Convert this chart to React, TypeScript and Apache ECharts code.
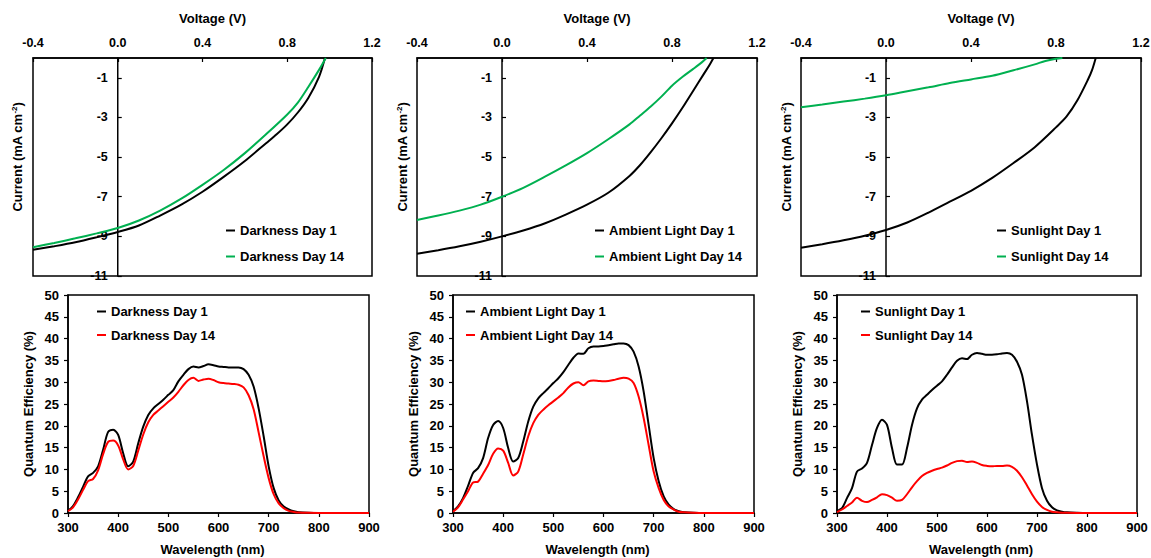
import React, { useEffect, useRef } from "react";
import * as echarts from "echarts";

// ---------- J-V data (Voltage V, Current mA cm-2) ----------
const darkD1V = [-0.4, -0.3, -0.2, -0.1, 0, 0.1, 0.2, 0.3, 0.4, 0.5, 0.6, 0.7, 0.75, 0.8, 0.85, 0.9, 0.95, 0.978];
const darkD1J = [-9.68, -9.5, -9.3, -9.05, -8.78, -8.45, -7.95, -7.4, -6.75, -6.0, -5.2, -4.3, -3.85, -3.35, -2.75, -2.0, -0.95, 0];
const darkD14V = [-0.4, -0.3, -0.2, -0.1, 0, 0.1, 0.2, 0.3, 0.4, 0.5, 0.6, 0.7, 0.8, 0.85, 0.9, 0.95, 0.982];
const darkD14J = [-9.55, -9.33, -9.1, -8.85, -8.58, -8.2, -7.7, -7.1, -6.4, -5.65, -4.8, -3.85, -2.85, -2.25, -1.45, -0.6, 0];

const ambD1V = [-0.4, -0.3, -0.2, -0.1, 0, 0.1, 0.2, 0.3, 0.4, 0.5, 0.6, 0.65, 0.7, 0.75, 0.8, 0.85, 0.9, 0.95, 0.975, 0.995];
const ambD1J = [-9.88, -9.7, -9.5, -9.27, -9.0, -8.7, -8.35, -7.9, -7.4, -6.8, -5.95, -5.4, -4.75, -4.05, -3.3, -2.5, -1.65, -0.8, -0.38, 0];
const ambD14V = [-0.4, -0.3, -0.2, -0.1, 0, 0.1, 0.2, 0.3, 0.4, 0.5, 0.6, 0.65, 0.7, 0.75, 0.8, 0.85, 0.9, 0.94, 0.963];
const ambD14J = [-8.17, -7.95, -7.7, -7.4, -7.0, -6.55, -6.0, -5.42, -4.8, -4.1, -3.35, -2.9, -2.45, -1.95, -1.4, -0.95, -0.55, -0.22, 0];

const sunD1V = [-0.4, -0.3, -0.2, -0.1, 0, 0.1, 0.2, 0.3, 0.4, 0.5, 0.6, 0.7, 0.8, 0.85, 0.9, 0.95, 0.97, 0.987];
const sunD1J = [-9.58, -9.4, -9.2, -8.97, -8.68, -8.3, -7.8, -7.25, -6.7, -6.05, -5.3, -4.5, -3.5, -2.95, -2.15, -1.1, -0.6, 0];
const sunD14V = [-0.4, -0.3, -0.2, -0.1, 0, 0.1, 0.2, 0.3, 0.4, 0.5, 0.6, 0.7, 0.75, 0.8, 0.83];
const sunD14J = [-2.48, -2.35, -2.2, -2.05, -1.88, -1.68, -1.48, -1.26, -1.08, -0.9, -0.62, -0.32, -0.15, -0.04, 0];

// ---------- Quantum efficiency data ----------
const wavelengths = [300, 310, 320, 330, 340, 350, 360, 370, 380, 390, 400, 410, 420, 430, 440, 450, 460, 470, 480, 490, 500, 510, 520, 530, 540, 550, 560, 570, 580, 590, 600, 610, 620, 630, 640, 650, 660, 670, 680, 690, 700, 710, 720, 730, 740, 750, 760, 780, 800, 850, 900];
const qeDarkD1 = [0.5, 1.6, 3.6, 6.0, 8.4, 9.2, 10.7, 14.5, 18.6, 19.1, 17.9, 13.7, 10.7, 11.8, 16.0, 19.8, 22.5, 24.0, 25.0, 26.0, 27.1, 28.2, 30.2, 31.7, 33.0, 33.6, 33.4, 33.7, 34.1, 33.9, 33.6, 33.5, 33.4, 33.4, 33.4, 33.0, 31.7, 29.0, 24.0, 17.6, 10.7, 5.7, 2.9, 1.5, 0.8, 0.4, 0.2, 0.05, 0, 0, 0];
const qeDarkD14 = [0.4, 1.3, 3.1, 5.3, 7.3, 7.8, 9.8, 13.5, 16.3, 16.6, 15.5, 12.3, 10.0, 10.8, 14.3, 18.0, 20.8, 22.5, 23.5, 24.5, 25.5, 26.5, 27.8, 29.3, 30.5, 31.0, 30.3, 30.6, 30.8, 30.5, 30.0, 29.8, 29.7, 29.6, 29.4, 28.8, 27.0, 23.8, 18.5, 13.0, 8.0, 4.3, 2.2, 1.1, 0.5, 0.25, 0.1, 0.03, 0, 0, 0];
const qeAmbD1 = [0.4, 1.5, 3.4, 6.2, 9.2, 10.3, 12.6, 17.2, 20.2, 21.1, 19.5, 14.9, 11.8, 12.6, 16.4, 21.0, 24.4, 26.3, 27.5, 28.6, 29.8, 30.9, 32.3, 34.0, 35.6, 36.6, 36.5, 37.8, 38.2, 38.2, 38.3, 38.5, 38.7, 38.9, 38.9, 38.5, 37.0, 33.6, 27.9, 20.2, 12.6, 7.3, 3.8, 1.9, 0.9, 0.4, 0.2, 0.05, 0, 0, 0];
const qeAmbD14 = [0.3, 1.3, 3.1, 5.0, 7.0, 7.2, 9.0, 11.0, 13.6, 14.8, 14.3, 11.5, 8.6, 9.5, 13.4, 17.6, 20.6, 22.5, 23.7, 24.7, 25.6, 26.5, 27.5, 28.8, 29.7, 30.0, 29.3, 30.2, 30.4, 30.3, 30.2, 30.3, 30.5, 30.8, 31.0, 30.8, 29.8, 26.7, 21.8, 15.6, 9.5, 5.7, 3.0, 1.5, 0.8, 0.3, 0.15, 0.05, 0, 0, 0];
const qeSunD1 = [0.5, 1.1, 3.4, 5.7, 9.5, 10.2, 11.5, 15.6, 19.5, 21.4, 20.2, 14.9, 11.1, 11.1, 14.9, 20.2, 24.0, 26.0, 27.1, 28.2, 29.2, 30.2, 31.7, 33.4, 34.9, 35.5, 35.3, 36.3, 36.7, 36.5, 36.3, 36.3, 36.4, 36.6, 36.7, 36.3, 34.7, 31.7, 25.6, 17.9, 11.1, 5.7, 2.8, 1.3, 0.6, 0.3, 0.15, 0.05, 0, 0, 0];
const qeSunD14 = [0.2, 0.8, 1.6, 2.4, 3.5, 2.8, 2.5, 3.0, 3.6, 4.3, 4.1, 3.5, 2.8, 3.0, 4.3, 5.9, 7.3, 8.5, 9.2, 9.7, 10.1, 10.4, 10.9, 11.5, 11.9, 12.0, 11.7, 11.8, 11.5, 11.0, 10.8, 10.7, 10.8, 10.8, 10.9, 10.6, 9.7, 8.2, 6.3, 4.3, 2.6, 1.4, 0.7, 0.3, 0.15, 0.07, 0.03, 0, 0, 0, 0];

const conditions = ["Darkness", "Ambient Light", "Sunlight"];
const jvSets = [
  [darkD1V, darkD1J, darkD14V, darkD14J],
  [ambD1V, ambD1J, ambD14V, ambD14J],
  [sunD1V, sunD1J, sunD14V, sunD14J],
];
const qeSets = [
  [qeDarkD1, qeDarkD14],
  [qeAmbD1, qeAmbD14],
  [qeSunD1, qeSunD14],
];

const voltageTicks = { min: -0.4, max: 1.2, interval: 0.4 };
const currentTicks = { min: -11, max: 0, interval: 2 };
const wavelengthTicks = { min: 300, max: 900, interval: 100 };
const qeTicks = { min: 0, max: 50, interval: 5 };

const FONT = '"Liberation Sans", Arial, Helvetica, sans-serif';
const GREEN = "#00B050";
const RED = "#FF0000";
const BLACK = "#000000";

const topGrids = [
  { left: 33, top: 58, width: 339, height: 218 },
  { left: 417, top: 58, width: 340, height: 218 },
  { left: 801, top: 58, width: 340, height: 218 },
];
const bottomGrids = [
  { left: 68, top: 295, width: 301, height: 218 },
  { left: 453, top: 295, width: 301, height: 218 },
  { left: 837, top: 295, width: 300, height: 218 },
];
const topLegendLeft = [221, 590, 992];
const bottomLegendLeft = [92, 461, 856];

function buildOption() {
  const labelStyle = { fontFamily: FONT, fontWeight: "bold" as const, fontSize: 12.5, color: BLACK };
  const nameStyle = { fontFamily: FONT, fontWeight: "bold" as const, fontSize: 13, color: BLACK };
  const mkAxisLine = () => ({ show: true, onZero: false, lineStyle: { color: BLACK, width: 1.5 } });
  const mkTick = (inside: boolean) => ({ show: true, inside, length: 4, lineStyle: { color: BLACK, width: 1.2 } });
  const legendText = { fontFamily: FONT, fontWeight: "bold" as const, fontSize: 13, color: BLACK };

  const grid: any[] = [];
  const xAxis: any[] = [];
  const yAxis: any[] = [];
  const series: any[] = [];
  const legend: any[] = [];

  const gridBase = {
    show: true,
    borderColor: BLACK,
    borderWidth: 1.5,
    backgroundColor: "transparent",
    containLabel: false,
    outerBoundsMode: "none",
  };

  conditions.forEach((cond, i) => {
    const gi = i;
    const g = topGrids[i];
    // position of V = 0 inside the grid, measured from its left edge
    const zeroOffset = (g.width * (0 - voltageTicks.min)) / (voltageTicks.max - voltageTicks.min);
    grid.push({ ...g, ...gridBase });
    xAxis.push({
      gridIndex: gi,
      type: "value",
      position: "top",
      ...voltageTicks,
      name: "Voltage (V)",
      nameLocation: "middle",
      nameGap: 33,
      nameTextStyle: { ...nameStyle, padding: [0, 0, 0, 20] },
      axisLine: mkAxisLine(),
      axisTick: mkTick(true),
      axisLabel: { ...labelStyle, margin: 9, formatter: (v: number) => v.toFixed(1) },
      splitLine: { show: false },
    });
    yAxis.push({
      gridIndex: gi,
      type: "value",
      position: "left",
      offset: -zeroOffset,
      ...currentTicks,
      name: "Current (mA cm{sup|-2})",
      nameLocation: "middle",
      nameGap: 93,
      nameTextStyle: {
        ...nameStyle,
        padding: [0, 0, 0, 20],
        rich: { sup: { fontFamily: FONT, fontWeight: "bold", fontSize: 8, color: BLACK, verticalAlign: "top", padding: [0, 0, 6, 0] } },
      },
      axisLine: mkAxisLine(),
      axisTick: mkTick(true),
      axisLabel: { ...labelStyle, margin: 10, showMaxLabel: false },
      splitLine: { show: false },
    });
    const [v1, j1, v14, j14] = jvSets[i];
    series.push({
      name: `${cond} Day 1`,
      type: "line",
      xAxisIndex: gi,
      yAxisIndex: gi,
      data: v1.map((v, k) => [v, j1[k]]),
      symbol: "none",
      smooth: 0.3,
      lineStyle: { color: BLACK, width: 2 },
      itemStyle: { color: BLACK },
      z: 3,
    });
    series.push({
      name: `${cond} Day 14`,
      type: "line",
      xAxisIndex: gi,
      yAxisIndex: gi,
      data: v14.map((v, k) => [v, j14[k]]),
      symbol: "none",
      smooth: 0.3,
      lineStyle: { color: GREEN, width: 2 },
      itemStyle: { color: GREEN },
      z: 4,
    });
    legend.push({
      data: [`${cond} Day 1`, `${cond} Day 14`],
      orient: "vertical",
      left: topLegendLeft[i],
      top: 219,
      icon: "rect",
      itemWidth: 9,
      itemHeight: 2,
      itemGap: 13,
      selectedMode: false,
      textStyle: legendText,
    });
  });

  conditions.forEach((cond, i) => {
    const gi = i + 3;
    const g = bottomGrids[i];
    grid.push({ ...g, ...gridBase });
    xAxis.push({
      gridIndex: gi,
      type: "value",
      position: "bottom",
      ...wavelengthTicks,
      name: "Wavelength (nm)",
      nameLocation: "middle",
      nameGap: 30,
      nameTextStyle: { ...nameStyle, padding: [0, 12, 0, 0] },
      axisLine: mkAxisLine(),
      axisTick: mkTick(false),
      axisLabel: { ...labelStyle, fontSize: 13, margin: 8 },
      splitLine: { show: false },
    });
    yAxis.push({
      gridIndex: gi,
      type: "value",
      position: "left",
      ...qeTicks,
      name: "Quantum Efficiency (%)",
      nameLocation: "middle",
      nameGap: 33,
      nameTextStyle: { ...nameStyle },
      axisLine: mkAxisLine(),
      axisTick: mkTick(false),
      axisLabel: { ...labelStyle, fontSize: 13, margin: 9 },
      splitLine: { show: false },
    });
    const [q1, q14] = qeSets[i];
    series.push({
      name: `QE ${cond} Day 1`,
      type: "line",
      xAxisIndex: gi,
      yAxisIndex: gi,
      data: wavelengths.map((w, k) => [w, q1[k]]),
      symbol: "none",
      smooth: 0.3,
      lineStyle: { color: BLACK, width: 2 },
      itemStyle: { color: BLACK },
      z: 3,
    });
    series.push({
      name: `QE ${cond} Day 14`,
      type: "line",
      xAxisIndex: gi,
      yAxisIndex: gi,
      data: wavelengths.map((w, k) => [w, q14[k]]),
      symbol: "none",
      smooth: 0.3,
      lineStyle: { color: RED, width: 2 },
      itemStyle: { color: RED },
      z: 4,
    });
    legend.push({
      data: [`QE ${cond} Day 1`, `QE ${cond} Day 14`],
      formatter: (name: string) => name.replace(/^QE /, ""),
      orient: "vertical",
      left: bottomLegendLeft[i],
      top: 300,
      icon: "rect",
      itemWidth: 9,
      itemHeight: 2,
      itemGap: 10.5,
      selectedMode: false,
      textStyle: legendText,
    });
  });

  return {
    animation: false,
    backgroundColor: "#ffffff",
    textStyle: { fontFamily: FONT },
    grid,
    xAxis,
    yAxis,
    series,
    legend,
  };
}

export default function App() {
  const ref = useRef<HTMLDivElement>(null);
  useEffect(() => {
    if (!ref.current) return;
    const chart = echarts.init(ref.current, undefined, { renderer: "svg" });
    chart.setOption(buildOption() as any);
    return () => chart.dispose();
  }, []);
  return (
    <div
      ref={ref}
      style={{ position: "fixed", left: 0, top: 0, width: 1151, height: 558, background: "#fff" }}
    />
  );
}
